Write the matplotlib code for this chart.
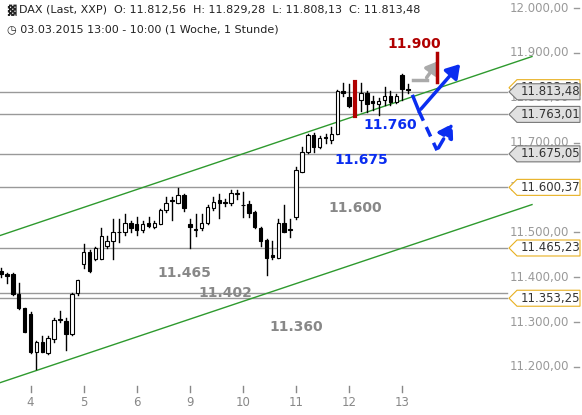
import matplotlib
matplotlib.use("Agg")
import matplotlib.pyplot as plt
import matplotlib.transforms as mtransforms
from matplotlib.patches import Polygon

# --- Kerzen (stündlich), Open/High/Low/Close ---
opens  = [11413, 11408, 11408, 11363, 11332, 11318, 11234, 11256, 11232, 11262,
          11308, 11303, 11274, 11365, 11430, 11457, 11440, 11441, 11470, 11481,
          11502, 11500, 11521, 11518, 11505, 11520, 11512, 11519, 11550, 11572,
          11566, 11583, 11518, 11505, 11510, 11520, 11555, 11572, 11567, 11565,
          11585, 11562, 11563, 11545, 11510, 11483, 11450, 11444, 11521, 11507,
          11535, 11635, 11680, 11717, 11690, 11712, 11705, 11719, 11815, 11802,
          11835, 11795, 11810, 11792, 11786, 11794, 11805, 11790, 11850, 11820]
highs  = [11420, 11410, 11410, 11388, 11332, 11322, 11258, 11270, 11268, 11310,
          11325, 11310, 11365, 11395, 11475, 11460, 11468, 11510, 11492, 11530,
          11530, 11540, 11525, 11535, 11525, 11535, 11525, 11552, 11580, 11580,
          11600, 11585, 11530, 11540, 11540, 11560, 11580, 11585, 11575, 11595,
          11595, 11590, 11570, 11548, 11512, 11485, 11480, 11530, 11560, 11530,
          11645, 11690, 11720, 11722, 11715, 11720, 11735, 11818, 11832, 11830,
          11835, 11832, 11815, 11805, 11800, 11825, 11815, 11808, 11852, 11830]
lows   = [11400, 11388, 11360, 11330, 11278, 11232, 11195, 11234, 11230, 11255,
          11300, 11238, 11272, 11360, 11420, 11412, 11438, 11440, 11465, 11440,
          11478, 11495, 11500, 11495, 11500, 11512, 11510, 11519, 11545, 11528,
          11565, 11547, 11465, 11492, 11505, 11518, 11550, 11533, 11558, 11562,
          11575, 11535, 11535, 11510, 11470, 11405, 11440, 11444, 11500, 11490,
          11530, 11635, 11678, 11680, 11688, 11700, 11700, 11719, 11805, 11780,
          11760, 11770, 11768, 11772, 11762, 11785, 11785, 11788, 11795, 11810]
closes = [11408, 11403, 11363, 11332, 11278, 11234, 11256, 11234, 11265, 11305,
          11304, 11274, 11363, 11395, 11457, 11415, 11465, 11492, 11480, 11500,
          11500, 11521, 11510, 11505, 11518, 11515, 11520, 11550, 11565, 11570,
          11583, 11555, 11513, 11506, 11521, 11556, 11568, 11565, 11566, 11588,
          11585, 11560, 11543, 11512, 11481, 11443, 11446, 11521, 11502, 11505,
          11640, 11680, 11718, 11690, 11710, 11710, 11720, 11815, 11810, 11782,
          11760, 11810, 11787, 11788, 11793, 11805, 11790, 11805, 11820, 11818]

day_labels = ["4", "5", "6", "9", "10", "11", "12", "13"]
day_index = [5, 14, 23, 32, 41, 50, 59, 68]

axis_prices = [12000, 11900, 11800, 11700, 11600, 11500, 11400, 11300, 11200]
level_prices = [11822.58, 11813.48, 11763.01, 11675.05, 11600.37, 11465.23, 11353.25]
level_kind = ["gold", "gray", "gray", "gray", "gold", "gold", "gold"]
extra_lines = [11365]

# Trendkanal (Preis am Anfang/Ende)
upper_channel = [(0, 11493), (90, 11892)]
lower_channel = [(0, 11165), (90, 11562)]

gray_notes = [("11.600", 60.0, 11555), ("11.465", 31.0, 11410),
              ("11.402", 38.0, 11365), ("11.360", 50.0, 11290)]
blue_notes = [("11.760", 66.0, 11740), ("11.675", 61.0, 11662)]


def px(x):
    return (x - 1) / 5.9


fig = plt.figure(figsize=(5.82, 4.15), dpi=100)
ax = fig.add_axes([0, 0, 1, 1])
ax.set_xlim(px(0), px(582))
ax.set_ylim(11093, 12018)
ax.axis("off")

# --- horizontale Linien ---
for p in level_prices[1:] + extra_lines:
    ax.plot([px(0), px(507)], [p, p], color="#999999", lw=1, zorder=1)

# --- Kanal ---
for (x0, y0), (x1, y1) in [upper_channel, lower_channel]:
    ax.plot([x0 + px(0), x1], [y0, y1], color="#2e9a2e", lw=1, zorder=2)

# --- Kerzen ---
for i, (o, h, l, c) in enumerate(zip(opens, highs, lows, closes)):
    if i == 60:
        ax.plot([i, i], [l, h], color="#b00000", lw=3, zorder=4)
        continue
    ax.plot([i, i], [l, h], color="black", lw=1, zorder=3)
    fill = "white" if c >= o else "black"
    lo, hi = min(o, c), max(o, c)
    ax.bar(i, max(hi - lo, 2), bottom=lo, width=0.6, color=fill,
           edgecolor="black", lw=0.8, zorder=3)

# --- Pfeile ---
ax.plot([px(413), px(419)], [11803, 11770], color="#0a2df0", lw=2.5, zorder=5)
ax.annotate("", xy=(px(462), 11880), xytext=(px(419), 11770),
            arrowprops=dict(arrowstyle="-|>,head_width=0.5,head_length=0.8",
                            color="#0a2df0", lw=2.5), zorder=5)
ax.plot([px(419), px(437)], [11770, 11683], color="#0a2df0", lw=2.5,
        ls=(0, (3, 2)), zorder=5)
ax.annotate("", xy=(px(454), 11748), xytext=(px(437), 11683),
            arrowprops=dict(arrowstyle="-|>,head_width=0.5,head_length=0.8",
                            color="#0a2df0", lw=2.5, ls=(0, (3, 2))), zorder=5)
ax.plot([px(413), px(427)], [11840, 11840], color="#aaaaaa", lw=2.5, zorder=5)
ax.annotate("", xy=(px(440), 11887), xytext=(px(425), 11840),
            arrowprops=dict(arrowstyle="-|>,head_width=0.45,head_length=0.7",
                            color="#aaaaaa", lw=2.5), zorder=5)
ax.plot([px(437), px(437)], [11835, 11900], color="#b00000", lw=2.5, zorder=5)

# --- Beschriftungen ---
ax.text(px(414), 11920, "11.900", color="#b00000", fontsize=10,
        fontweight="bold", va="center", ha="center")
for t, x, y in blue_notes:
    ax.text(x, y, t, color="#0a2df0", fontsize=10, fontweight="bold",
            va="center", ha="center")
for t, x, y in gray_notes:
    ax.text(x, y, t, color="#888888", fontsize=10, fontweight="bold",
            va="center", ha="center")


def de(v):
    s = f"{v:,.2f}"
    return s.replace(",", "X").replace(".", ",").replace("X", ".")


for p in axis_prices:
    ax.text(px(510), p, de(p), color="#999999", fontsize=8.5, va="center", zorder=2)
    ax.plot([px(574), px(579)], [p, p], color="#999999", lw=1)

h = 8 / 0.449  # halbe Boxhöhe in Preis-Einheiten
for n, (p, k) in enumerate(zip(level_prices, level_kind)):
    if k == "gray":
        fc, ec = "#e0e0e0", "#777777"
    else:
        fc, ec = "white", "#e8b020"
    pts = [(px(509), p), (px(517), p + h), (px(580), p + h),
           (px(580), p - h), (px(517), p - h)]
    ax.add_patch(Polygon(pts, closed=True, fc=fc, ec=ec, lw=0.8, zorder=6 + 2 * n))
    ax.text(px(521), p, de(p), color="#333333", fontsize=8.5, va="center",
            zorder=7 + 2 * n)

trans = mtransforms.blended_transform_factory(ax.transData, ax.transAxes)
for lab, i in zip(day_labels, day_index):
    ax.text(i, 0.03, lab, transform=trans, ha="center", va="center",
            color="#888888", fontsize=8.5)
    ax.plot([i, i], [0.055, 0.07], transform=trans, color="#888888", lw=1)

fig.text(0.012, 0.975, "\u2593 DAX (Last, XXP)  O: 11.812,56  H: 11.829,28  L: 11.808,13  C: 11.813,48",
         fontsize=8, va="center", color="#222222")
fig.text(0.012, 0.93, "\u25f7 03.03.2015 13:00 - 10:00 (1 Woche, 1 Stunde)",
         fontsize=8, va="center", color="#222222")

fig.savefig("out.png", dpi=100)
